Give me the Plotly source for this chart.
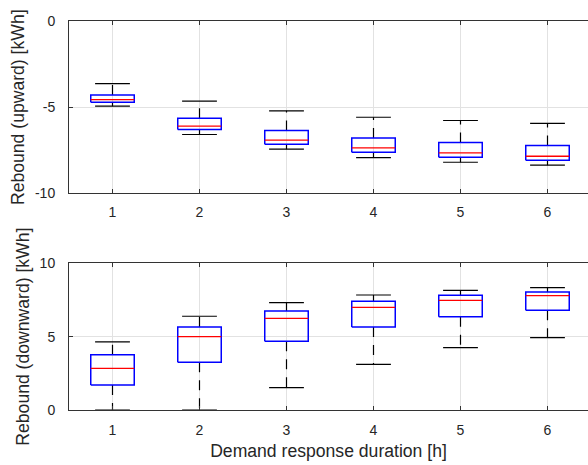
import plotly.graph_objects as go

durations = [1, 2, 3, 4, 5, 6]
tick_labels = ["1", "2", "3", "4", "5", "6"]
up_ticks = [-10, -5, 0]
up_tick_labels = ["-10", "-5", "0"]
down_ticks = [0, 5, 10]
down_tick_labels = ["0", "5", "10"]

# Upward rebound [kWh]
up_lower = [-4.94, -6.58, -7.43, -7.92, -8.19, -8.36]
up_q1 = [-4.71, -6.29, -7.14, -7.61, -7.90, -8.07]
up_median = [-4.56, -6.10, -6.91, -7.36, -7.64, -7.84]
up_q3 = [-4.29, -5.64, -6.35, -6.78, -7.05, -7.22]
up_upper = [-3.63, -4.65, -5.21, -5.58, -5.77, -5.93]

# Downward rebound [kWh]
down_lower = [0.0, 0.0, 1.52, 3.11, 4.25, 4.93]
down_q1 = [1.70, 3.25, 4.68, 5.66, 6.36, 6.80]
down_median = [2.84, 5.00, 6.25, 7.00, 7.48, 7.80]
down_q3 = [3.77, 5.66, 6.75, 7.41, 7.82, 8.05]
down_upper = [4.64, 6.39, 7.32, 7.84, 8.16, 8.34]

BOX_HW = 0.25
CAP_HW = 0.2
FONT = "Liberation Sans, Arial, Helvetica, sans-serif"
TXT = "#262626"

fig = go.Figure()


def add_boxes(xref, yref, lower, q1, med, q3, upper):
    for x, lo, a, m, b, hi in zip(durations, lower, q1, med, q3, upper):
        common = dict(xaxis=xref, yaxis=yref, mode="lines", showlegend=False, hoverinfo="skip")
        # whiskers (dashed, from box edge outward)
        fig.add_trace(go.Scatter(x=[x, x], y=[b, hi], line=dict(color="black", width=1.2, dash="10px,8px"), **common))
        fig.add_trace(go.Scatter(x=[x, x], y=[a, lo], line=dict(color="black", width=1.2, dash="10px,8px"), **common))
        # caps
        fig.add_trace(go.Scatter(x=[x - CAP_HW, x + CAP_HW], y=[hi, hi], line=dict(color="black", width=1.2), **common))
        fig.add_trace(go.Scatter(x=[x - CAP_HW, x + CAP_HW], y=[lo, lo], line=dict(color="black", width=1.2), **common))
        # box
        fig.add_trace(go.Scatter(x=[x - BOX_HW, x + BOX_HW, x + BOX_HW, x - BOX_HW, x - BOX_HW],
                                 y=[a, a, b, b, a], line=dict(color="rgb(0,0,255)", width=1.5), **common))
        # median
        fig.add_trace(go.Scatter(x=[x - BOX_HW, x + BOX_HW], y=[m, m], line=dict(color="red", width=1.3), **common))


add_boxes("x", "y", up_lower, up_q1, up_median, up_q3, up_upper)
add_boxes("x2", "y2", down_lower, down_q1, down_median, down_q3, down_upper)

xrange = [0.5, 6.5 - 3 / 87]
axis_common = dict(
    showline=True, linecolor="#333333", linewidth=1,
    ticks="inside", ticklen=4, tickcolor="#333333",
    showgrid=True, gridcolor="#e2e2e2", gridwidth=1,
    zeroline=False,
    tickfont=dict(family=FONT, size=14, color=TXT),
)

fig.update_layout(
    width=588, height=465,
    margin=dict(l=69, r=0, t=21, b=55),
    paper_bgcolor="white", plot_bgcolor="white",
    font=dict(family=FONT, color=TXT),
    xaxis=dict(anchor="y", range=xrange, tickvals=durations, ticktext=tick_labels,
               mirror="ticks", ticklabelstandoff=6, **axis_common),
    yaxis=dict(domain=[0.5566, 1], anchor="x", range=[-10, 0], tickvals=up_ticks, ticktext=up_tick_labels,
               ticklabelstandoff=10,
               title=dict(text="Rebound (upward) [kWh]", font=dict(family=FONT, size=17.6, color=TXT), standoff=5),
               **axis_common),
    xaxis2=dict(anchor="y2", range=xrange, tickvals=durations, ticktext=tick_labels,
                mirror="ticks", ticklabelstandoff=7,
                title=dict(text="Demand response duration [h]", font=dict(family=FONT, size=17.6, color=TXT), standoff=7),
                **axis_common),
    yaxis2=dict(domain=[0, 0.3771], anchor="x2", range=[0, 10], tickvals=down_ticks, ticktext=down_tick_labels,
                ticklabelstandoff=10,
                title=dict(text="Rebound (downward) [kWh]", font=dict(family=FONT, size=17.6, color=TXT), standoff=5),
                **axis_common),
)

fig.write_html("out.html")
